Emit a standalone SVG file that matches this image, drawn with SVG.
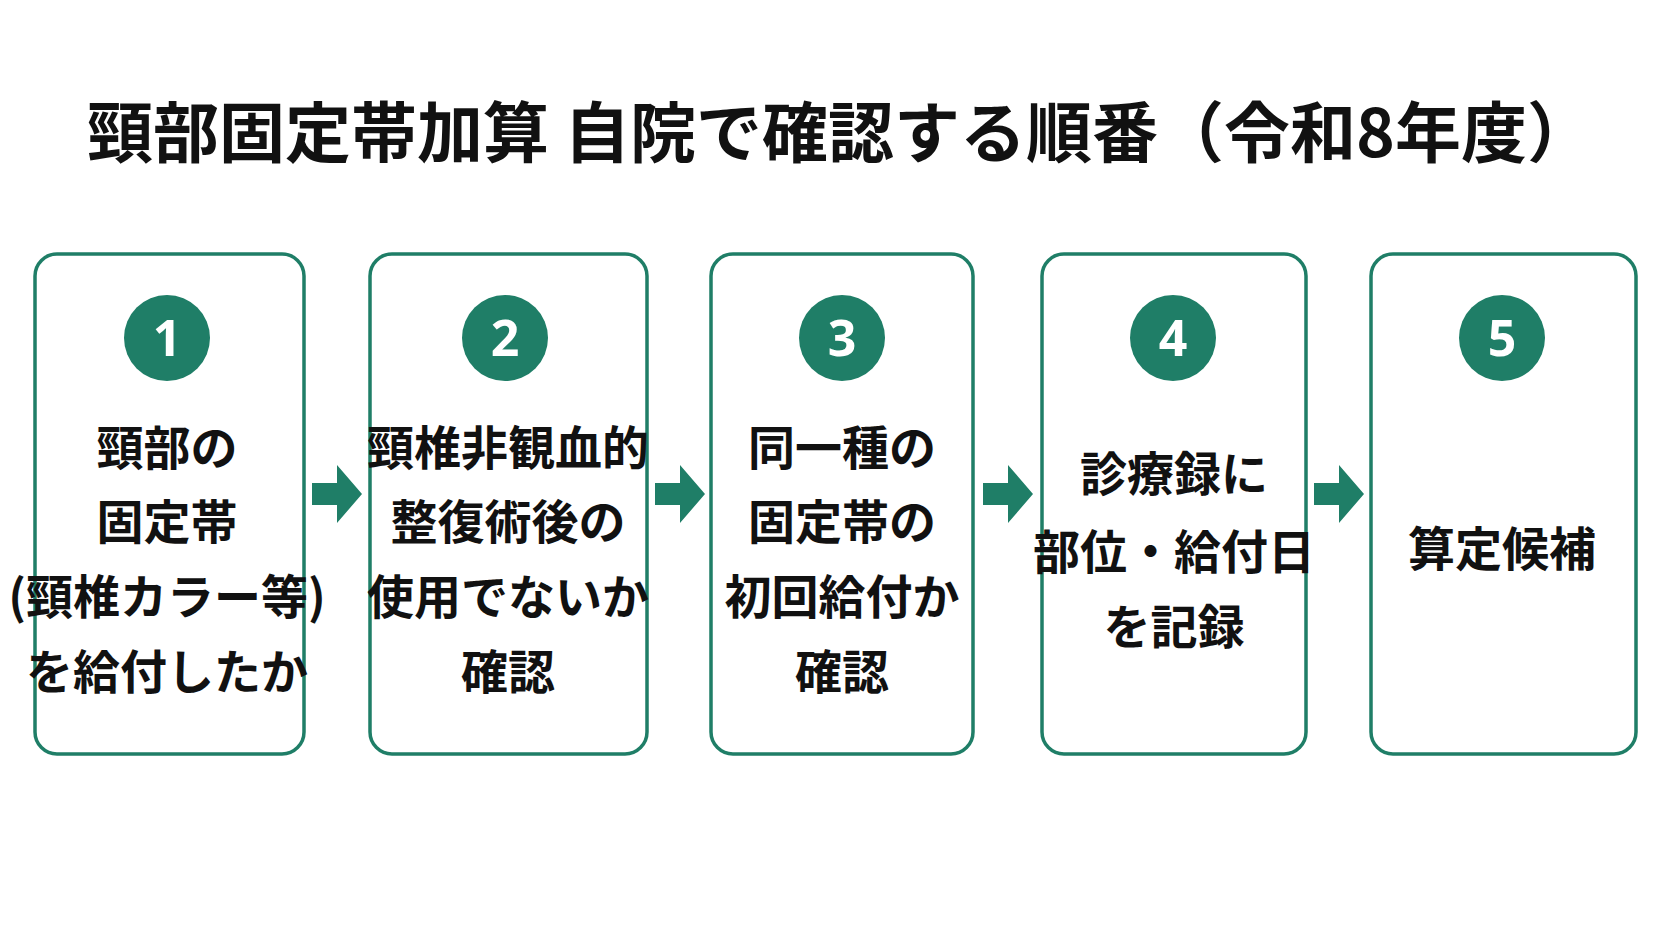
<svg xmlns="http://www.w3.org/2000/svg" width="1672" height="941" viewBox="0 0 1672 941">
<style>
.box{fill:#fff;stroke:#1f7e67;stroke-width:3.5}
.c{fill:#1f7e67}
.n{fill:#fff;font-family:"Noto Sans","Noto Sans CJK JP",sans-serif;font-weight:bold;font-size:50px;text-anchor:middle}
.t{fill:#111;font-family:"Noto Sans CJK JP",sans-serif;font-weight:bold;font-size:47px;text-anchor:middle}
.ttl{fill:#111;font-family:"Noto Sans CJK JP",sans-serif;font-weight:bold;font-size:66px;text-anchor:middle}
.ar{fill:#1f7e67}
</style>
<rect width="1672" height="941" fill="#fff"/>
<text class="ttl" x="840" y="157">頸部固定帯加算 自院で確認する順番（令和8年度）</text>
<g id="n1"><rect class="box" x="35" y="254" width="269" height="500" rx="22"/><circle class="c" cx="167" cy="338" r="43"/><text class="n" x="167" y="356">1</text>
<text class="t" x="167" y="465">頸部の</text><text class="t" x="167" y="539">固定帯</text><text class="t" x="167" y="614">(頸椎カラー等)</text><text class="t" x="167" y="689">を給付したか</text></g>
<g id="n2"><rect class="box" x="370" y="254" width="277" height="500" rx="22"/><circle class="c" cx="505" cy="338" r="43"/><text class="n" x="505" y="356">2</text>
<text class="t" x="508" y="465">頸椎非観血的</text><text class="t" x="508" y="539">整復術後の</text><text class="t" x="508" y="614">使用でないか</text><text class="t" x="508" y="689">確認</text></g>
<g id="n3"><rect class="box" x="711" y="254" width="262" height="500" rx="22"/><circle class="c" cx="842" cy="338" r="43"/><text class="n" x="842" y="356">3</text>
<text class="t" x="842" y="465">同一種の</text><text class="t" x="842" y="539">固定帯の</text><text class="t" x="842" y="614">初回給付か</text><text class="t" x="842" y="689">確認</text></g>
<g id="n4"><rect class="box" x="1042" y="254" width="264" height="500" rx="22"/><circle class="c" cx="1173" cy="338" r="43"/><text class="n" x="1173" y="356">4</text>
<text class="t" x="1174" y="491">診療録に</text><text class="t" x="1174" y="569">部位・給付日</text><text class="t" x="1174" y="644">を記録</text></g>
<g id="n5"><rect class="box" x="1371" y="254" width="265" height="500" rx="22"/><circle class="c" cx="1502" cy="338" r="43"/><text class="n" x="1502" y="356">5</text>
<text class="t" x="1502" y="566">算定候補</text></g>
<g id="connectors">
<polygon class="ar" points="312,483 337,483 337,465 362,494 337,523 337,505 312,505"/>
<polygon class="ar" points="655,483 680,483 680,465 705,494 680,523 680,505 655,505"/>
<polygon class="ar" points="983,483 1008,483 1008,465 1033,494 1008,523 1008,505 983,505"/>
<polygon class="ar" points="1314,483 1339,483 1339,465 1364,494 1339,523 1339,505 1314,505"/>
</g>
</svg>
